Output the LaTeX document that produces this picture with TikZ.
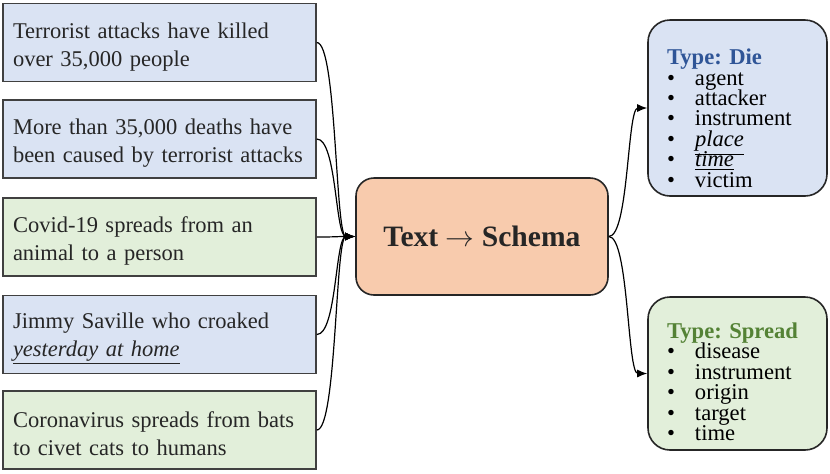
\documentclass[tikz,border=0pt]{standalone}
\usepackage{fontspec}
\setmainfont{Liberation Serif}
\usetikzlibrary{positioning}
\usetikzlibrary{arrows.meta}

\definecolor{dieblue}{HTML}{DAE3F3}
\definecolor{spreadgreen}{HTML}{E2EFDA}
\definecolor{coreorange}{HTML}{F8CBAD}
\definecolor{dietitle}{HTML}{2F5597}
\definecolor{spreadtitle}{HTML}{548235}

\newcommand{\slot}[1]{\makebox[14pt][l]{\textbullet}#1}
\newcommand{\topgap}[1]{\rule{0pt}{#1}}
\newcommand{\tightlines}{\lineskiplimit=-8pt\relax\frenchspacing}
\newcommand{\nobreaks}{\hyphenpenalty=10000\relax\exhyphenpenalty=10000\relax}

\tikzset{
  sent/.style={draw=black!75, line width=0.8pt, fill=#1, minimum width=156.5pt,
    minimum height=39pt, text width=146.5pt, inner xsep=5pt, align=left,
    text=black!85, font=\fontsize{11.25}{14}\selectfont\nobreaks},
  schema/.style={draw=black!85, line width=0.8pt, fill=#1, rounded corners=11pt,
    minimum width=89.5pt, text width=70.5pt, inner xsep=9.5pt, align=left,
    font=\fontsize{11.3}{10.2}\selectfont\tightlines},
  feed/.style={-{Latex[length=5pt,width=4pt]}, line width=0.6pt},
}

\begin{document}
\begin{tikzpicture}[x=0.5pt,y=-0.5pt]
                \useasboundingbox (0,0) rectangle (830,473);

                % input sentences
                \node[sent=dieblue] (t1) at (159.5,42.5) {\topgap{12pt}Terrorist attacks have killed over 35,000 people};
                \node[sent=dieblue] (t2) at (159.5,139) {\topgap{12pt}More than 35,000 deaths have been caused by terrorist attacks};
                \node[sent=spreadgreen] (t3) at (159.5,237) {\topgap{12pt}Covid-19 spreads from an animal to a person};
                \node[sent=dieblue] (t4) at (159.5,334.5) {\topgap{12pt}Jimmy Saville who croaked \underline{\textit{yesterday at home}}};
                \node[sent=spreadgreen] (t5) at (159.5,430) {\topgap{12pt}Coronavirus spreads from bats to civet cats to humans};

                % task
                \node[draw=black!85, line width=0.8pt, fill=coreorange, rounded corners=9pt,
                      minimum width=126pt, minimum height=58.5pt, text=black!85,
                      font=\fontsize{14.8}{17}\selectfont\bfseries] (core) at (482,236.5) {Text $\rightarrow$ Schema};

                % output schemas
                \node[schema=dieblue, minimum height=88pt] (die) at (737.5,108)
                  {\topgap{18pt}\textcolor{dietitle}{\textbf{Type: Die}}\\
                   \slot{agent}\\ \slot{attacker}\\ \slot{instrument}\\
                   \slot{\underline{\textit{place}}}\\ \slot{\underline{\textit{time}}}\\ \slot{victim}};
                \node[schema=spreadgreen, minimum height=76.5pt] (spread) at (737.5,373.5)
                  {\topgap{16pt}\textcolor{spreadtitle}{\textbf{Type: Spread}}\\
                   \slot{disease}\\ \slot{instrument}\\ \slot{origin}\\ \slot{target}\\ \slot{time}};

                \foreach \src in {t1, t2, t3, t4, t5}
                    \draw[feed] (\src.east) .. controls +(20,0) and +(-20,0) .. (core.west);
                \foreach \dst in {die, spread}
                    \draw[feed] (core.east) .. controls +(20,0) and +(-20,0) .. (\dst.west);
            \end{tikzpicture}
\end{document}
